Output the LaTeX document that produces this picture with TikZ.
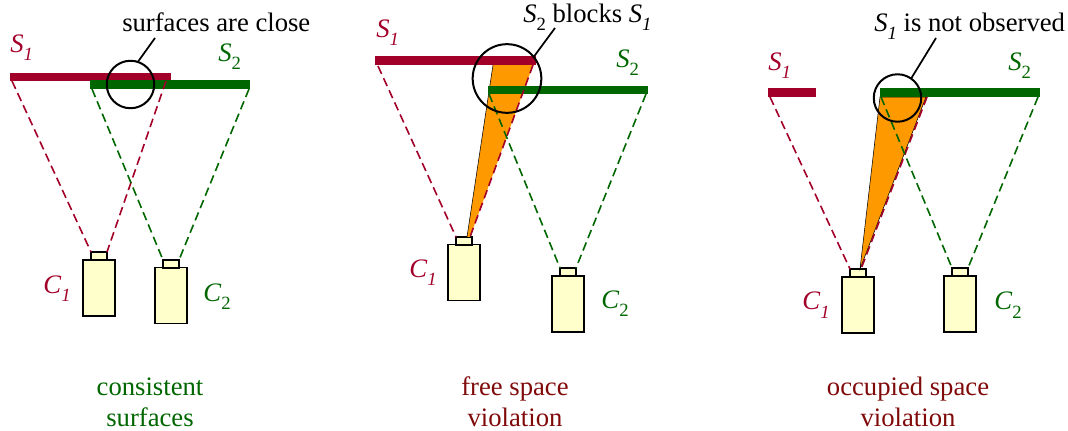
\documentclass[tikz,border=0pt]{standalone}
\usepackage{fontspec}
\setmainfont{Liberation Serif}
\usepackage{tikz}
\definecolor{barred}{HTML}{A30029}
\definecolor{bargreen}{HTML}{006600}
\definecolor{capred}{HTML}{800A0A}
\definecolor{wedge}{HTML}{FF9900}
\definecolor{camfill}{HTML}{FFFFCC}
\newcommand{\sname}[2]{\textit{#1}\raisebox{-.3em}{\fontsize{14}{14}\selectfont #2}}
\tikzset{
  redbar/.style={draw=barred,line width=6.4pt},
  greenbar/.style={draw=bargreen,line width=6.4pt},
  reddash/.style={draw=barred,line width=1.2pt,dash pattern=on 6.5pt off 3.5pt},
  greendash/.style={draw=bargreen,line width=1.2pt,dash pattern=on 6.5pt off 3.5pt},
  cambody/.style={draw,fill=camfill,line width=1.3pt,minimum width=24pt,minimum height=42pt,inner sep=0pt,outer sep=0pt},
  camlens/.style={draw,fill=camfill,line width=1.3pt,minimum width=12pt,minimum height=6pt,inner sep=0pt,outer sep=0pt},
  ring/.style={draw,circle,line width=1.5pt,inner sep=0pt,outer sep=0pt},
  leader/.style={line width=1.3pt},
  txt/.style={anchor=base west,inner sep=0pt,font=\fontsize{20}{23}\selectfont},
  capt/.style={align=center,inner sep=0pt,font=\fontsize{20}{23}\selectfont}
}
\begin{document}
\begin{tikzpicture}[x=.75pt,y=-.75pt]
\useasboundingbox (0,0) rectangle (1068,431);

% consistent surfaces
\coordinate (A1) at (10,77); \coordinate (A2) at (171,77); \coordinate (A3) at (90,84.5); \coordinate (A4) at (250,84.5);
\coordinate (Aa) at (12,81); \coordinate (Ab) at (166,81); \coordinate (Ac) at (92,89); \coordinate (Ad) at (249,89); \coordinate (Ae) at (155,38);
\node[cambody] (Acam1) at (99,288) {}; \node[camlens] (Alens1) at (99,256) {};
\node[cambody] (Acam2) at (171,295.5) {}; \node[camlens] (Alens2) at (171,264) {};
\draw[redbar] (A1)--(A2);
\draw[greenbar] (A3)--(A4);
\draw[reddash] (Aa)--(Alens1.north west); \draw[reddash] (Ab)--(Alens1.north east);
\draw[greendash] (Ac)--(Alens2.north west); \draw[greendash] (Ad)--(Alens2.north east);
\node[ring,minimum size=35.6pt] (Aring) at (130.5,84.5) {};
\draw[leader] (Aring.72)--(Ae);
\node[txt,text=barred] (As1) at (10,53) {\sname{S}{\textit{1}}};
\node[txt,text=bargreen] (As2) at (218,62) {\sname{S}{2}};
\node[txt,text=barred] (Ac1) at (43,293) {\sname{C}{\textit{1}}};
\node[txt,text=bargreen] (Ac2) at (203,301) {\sname{C}{2}};
\node[txt] (Anote) at (122,32) {surfaces are close};
\node[capt,text=bargreen] (Acap) at (150,402) {consistent\\surfaces};

% free space violation
\coordinate (B1) at (375,60.5); \coordinate (B2) at (536,60.5); \coordinate (B3) at (488,90); \coordinate (B4) at (648,90);
\coordinate (Ba) at (378,66); \coordinate (Bb) at (533,65); \coordinate (Bc) at (489,94); \coordinate (Bd) at (646,94); \coordinate (Be) at (555,28);
\coordinate (Bw) at (493,65); \coordinate (Bt) at (467,237); \coordinate (Bu) at (470,237);
\node[cambody] (Bcam1) at (464,272.5) {}; \node[camlens] (Blens1) at (464,241) {};
\node[cambody] (Bcam2) at (568,304) {}; \node[camlens] (Blens2) at (568,272) {};
\fill[wedge] (Bw)--(Bb)--(Bu)--(Bt)--cycle;
\draw (Bw)--(Bt);
\draw[redbar] (B1)--(B2);
\draw[greenbar] (B3)--(B4);
\draw[reddash] (Ba)--(Blens1.north west); \draw[reddash] (Bb)--(Bu);
\draw[greendash] (Bc)--(Blens2.north west); \draw[greendash] (Bd)--(Blens2.north east);
\node[ring,minimum size=51.5pt] (Bring) at (507,78.5) {};
\draw[leader] (Bring.39)--(Be);
\node[txt,text=barred] (Bs1) at (376,38) {\sname{S}{\textit{1}}};
\node[txt,text=bargreen] (Bs2) at (616,68) {\sname{S}{2}};
\node[txt,text=barred] (Bc1) at (409,277) {\sname{C}{\textit{1}}};
\node[txt,text=bargreen] (Bc2) at (601,308) {\sname{C}{2}};
\node[txt] (Bnote) at (523,23) {\sname{S}{2} blocks \sname{S}{\textit{1}}};
\node[capt,text=capred] (Bcap) at (515,402) {free space\\violation};

% occupied space violation
\coordinate (C1) at (768,92.5); \coordinate (C2) at (816,92.5); \coordinate (C3) at (880,92.5); \coordinate (C4) at (1040,92.5);
\coordinate (Ca) at (770,97); \coordinate (Cb) at (927,97); \coordinate (Cc) at (881,97); \coordinate (Cd) at (1038,97); \coordinate (Ce) at (936,38);
\coordinate (Cw) at (880,97); \coordinate (Cx) at (926,97); \coordinate (Ct) at (860,269); \coordinate (Cu) at (861,269);
\node[cambody] (Ccam1) at (858,305) {}; \node[camlens] (Clens1) at (858,273) {};
\node[cambody] (Ccam2) at (960,304) {}; \node[camlens] (Clens2) at (960,272) {};
\draw[fill=wedge] (Cw)--(Cx)--(Ct)--cycle;
\draw[redbar] (C1)--(C2);
\draw[greenbar] (C3)--(C4);
\draw[reddash] (Ca)--(Clens1.north west); \draw[reddash] (Cb)--(Cu);
\draw[greendash] (Cc)--(Clens2.north west); \draw[greendash] (Cd)--(Clens2.north east);
\node[ring,minimum size=35.6pt] (Cring) at (897.5,98) {};
\draw[leader] (Cring.55)--(Ce);
\node[txt,text=barred] (Cs1) at (768,71) {\sname{S}{\textit{1}}};
\node[txt,text=bargreen] (Cs2) at (1008,71) {\sname{S}{2}};
\node[txt,text=barred] (Cc1) at (802,310) {\sname{C}{\textit{1}}};
\node[txt,text=bargreen] (Cc2) at (994,310) {\sname{C}{2}};
\node[txt] (Cnote) at (874,32) {\sname{S}{\textit{1}} is not observed};
\node[capt,text=capred] (Ccap) at (908,402) {occupied space\\violation};
\end{tikzpicture}
\end{document}
